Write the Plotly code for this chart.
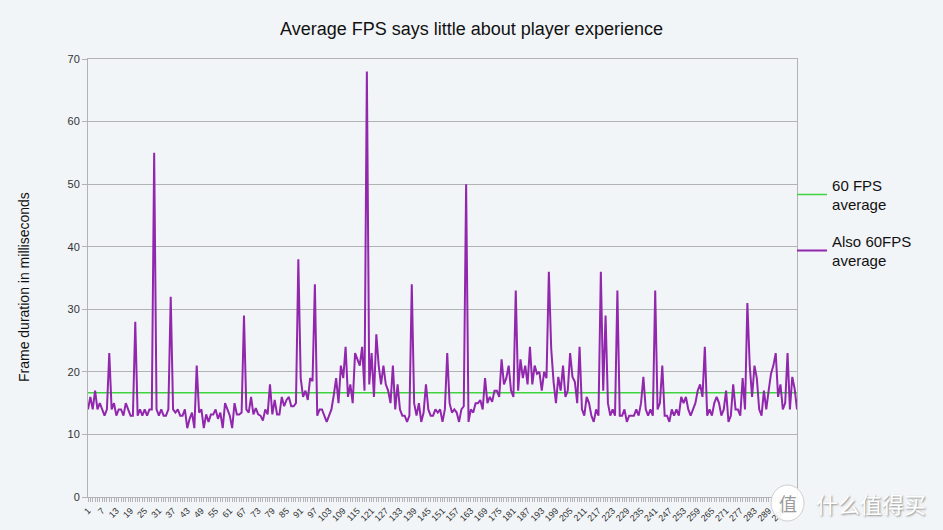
import plotly.graph_objects as go

# ---- data ----
frame_ms = [
    14, 16, 14, 17, 14, 15, 14, 13, 14, 23,
    14, 15, 13, 14, 14, 13, 15, 14, 13, 13,
    28, 13, 14, 13, 14, 13, 14, 14, 55, 14,
    13, 14, 13, 13, 14, 32, 14, 13.5, 14, 13,
    13, 14, 11, 12.5, 13.5, 11, 21, 13.5, 14, 11,
    13.2, 12, 13.2, 13.2, 14, 12.5, 13.5, 11, 15, 14,
    13, 11, 15, 13.2, 13.2, 13.5, 29, 14, 13.5, 16,
    13.2, 14.2, 13.2, 13, 12.2, 14, 13.2, 18, 13.2, 15.5,
    13.2, 13.2, 16, 14.5, 15.5, 16, 14.5, 14.5, 15, 38,
    19, 16, 17, 15.5, 19, 18.5, 34, 13, 14, 14,
    13, 12, 13, 14, 16.3, 19, 15, 21, 19, 24,
    16, 18, 15, 23, 22, 21, 24, 17, 68, 18,
    23, 16, 26, 21, 18, 21, 18, 17, 15, 21,
    14, 18, 14, 13, 13, 12, 13, 34, 15, 13,
    15, 12, 13.5, 18, 14, 13, 13, 14, 13.5, 14,
    12, 14, 23, 15, 13.5, 14, 13.5, 12, 14, 14.5,
    50, 12, 14, 13.5, 15, 15, 15.5, 14, 19, 15,
    16, 15.2, 17, 17, 16, 22, 18, 19, 21, 17,
    16, 33, 17, 22, 19, 21, 18, 24, 18, 21,
    19.7, 20, 17, 20, 19, 36, 23.7, 18.4, 15, 19.2,
    17, 21, 16, 17, 23, 19.2, 18.4, 15, 24, 14,
    13, 16, 15, 13, 12, 14, 13, 36, 17, 29,
    15, 13, 14, 13, 33, 13, 13, 14, 12, 13,
    13, 13, 14, 13, 15, 19.2, 14, 13, 14, 13,
    33, 14, 15, 21, 13, 13, 12, 14, 13, 14,
    13, 16, 15, 16, 14, 13, 14, 15, 17, 18,
    16, 24, 13, 14, 13, 15, 16, 15, 13, 14,
    17, 12, 13, 18, 14, 14, 13, 19, 14, 31,
    21, 16, 21, 19, 14, 13, 17, 14, 17, 19.7,
    21, 23, 16, 18, 14, 15, 23, 14, 19.2, 17.3,
    14,
]
frames = list(range(1, len(frame_ms) + 1))
avg_60fps_ms = 1000 / 60
avg_line = [avg_60fps_ms for _ in frames]
x_tick_labels = list(range(1, 296, 6))
y_ticks = [0, 10, 20, 30, 40, 50, 60, 70]

title_text = "Average FPS says little about player experience"
y_title = "Frame duration in milliseconds"
series_names = ["60 FPS<br>average", "Also 60FPS<br>average"]

# ---- styling ----
BG = "#f2f5f8"
GRID = "#b3b3b3"
GREEN = "#3fd43f"
PURPLE = "#9127ad"
FONT = "Liberation Sans, Arial, sans-serif"
W, H = 943, 530

fig = go.Figure()
fig.add_trace(go.Scatter(
    x=frames, y=avg_line, mode="lines", name=series_names[0],
    line=dict(color=GREEN, width=1.6), legendgroup="a",
))
fig.add_trace(go.Scatter(
    x=frames, y=frame_ms, mode="lines", name=series_names[1],
    line=dict(color=PURPLE, width=2), legendgroup="b",
))

fig.update_layout(
    width=W, height=H,
    paper_bgcolor=BG, plot_bgcolor=BG,
    margin=dict(l=88, r=146, t=59, b=33, autoexpand=False),
    font=dict(family=FONT, color="#222222"),
    title=dict(text=title_text, x=0.5, xref="container", xanchor="center",
               y=1 - 29 / H, yref="container", yanchor="middle",
               font=dict(size=18, color="#111111")),
    showlegend=True,
    legend=dict(x=0.993, xanchor="left", y=0.75, yanchor="top",
                bgcolor="rgba(0,0,0,0)", font=dict(size=15, color="#111111"),
                tracegroupgap=14, itemwidth=30),
)

fig.update_xaxes(
    range=[1, len(frames)], automargin=False,
    tickmode="array", tickvals=x_tick_labels,
    ticktext=[str(v) for v in x_tick_labels],
    tickangle=-45, tickfont=dict(size=9, color="#333333"),
    ticks="outside", ticklen=4, tickcolor=GRID,
    minor=dict(dtick=1, tick0=1, ticks="outside", ticklen=4, tickcolor=GRID, showgrid=False),
    showgrid=False, zeroline=False,
    showline=True, linecolor=GRID, linewidth=1, mirror=True,
)
fig.update_yaxes(
    range=[0, 70], tickmode="array", tickvals=y_ticks, automargin=False,
    tickfont=dict(size=11, color="#333333"),
    ticks="outside", ticklen=5, tickcolor=GRID,
    showgrid=True, gridcolor=GRID, gridwidth=1, zeroline=False,
    showline=True, linecolor=GRID, linewidth=1, mirror=True,
)

# y-axis title placed where the reference has it
fig.add_annotation(text=y_title, xref="paper", yref="paper",
                   x=(24 - 88) / 709, y=(497 - 287) / 438,
                   xanchor="center", yanchor="middle", textangle=-90,
                   showarrow=False, font=dict(size=14, color="#111111"))

# watermark of the source site
fig.add_shape(type="circle", xref="paper", yref="paper",
              x0=(771 - 88) / 709, x1=(804 - 88) / 709,
              y0=(497 - 521) / 438, y1=(497 - 485) / 438,
              fillcolor="rgba(255,255,255,0.9)", line=dict(color="#cfcfcf", width=1))
fig.add_annotation(text="值", xref="paper", yref="paper",
                   x=(787.5 - 88) / 709, y=(497 - 503) / 438,
                   xanchor="center", yanchor="middle",
                   showarrow=False, font=dict(size=18, color="#9a9a9a", family="Noto Sans CJK SC"))
fig.add_annotation(text="什么值得买", xref="paper", yref="paper",
                   x=(814 - 88) / 709, y=(497 - 503) / 438,
                   xanchor="left", yanchor="middle",
                   showarrow=False,
                   font=dict(size=22, color="#ffffff", family="Noto Sans CJK SC",
                             shadow="1px 1px 2px #8a8a8a"))

fig.write_html("out.html", config={"displayModeBar": False},
               post_script="document.body.style.margin='0';document.body.style.overflow='hidden';")
